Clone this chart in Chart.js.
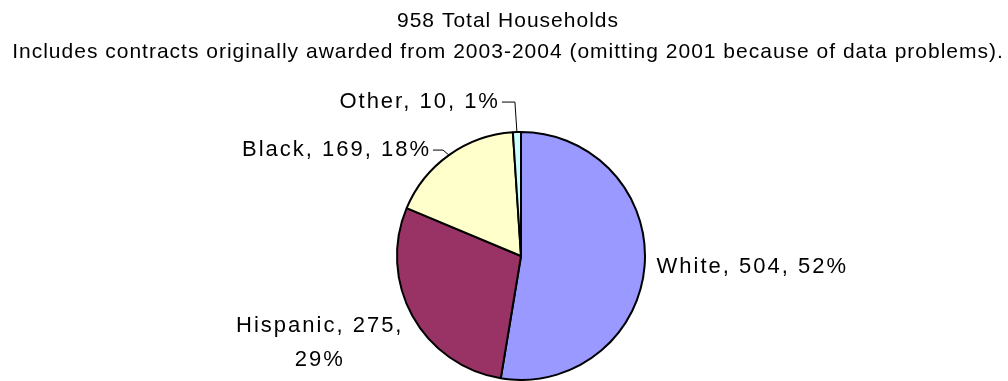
<!DOCTYPE html>
<html>
<head>
<meta charset="utf-8">
<script src="https://cdn.jsdelivr.net/npm/chart.js@4/dist/chart.umd.min.js"></script>
<style>
  html, body { margin: 0; padding: 0; background: #ffffff; }
  #wrap { width: 1008px; height: 381px; position: relative; }
</style>
</head>
<body>
<div id="wrap"><canvas id="c" width="1008" height="381"></canvas></div>
<script>
// ---- data ----
const categories = ['White', 'Hispanic', 'Black', 'Other'];
const households = [504, 275, 169, 10];
const percentLabels = [52, 29, 18, 1];
const titleLines = [
  '958 Total Households',
  'Includes contracts originally awarded from 2003-2004 (omitting 2001 because of data problems).'
];

// ---- styling ----
const sliceColors = ['#9999FF', '#993366', '#FFFFCC', '#CCFFFF'];
const labelFont = '22px "Liberation Sans", Arial, sans-serif';
const titleFont = '21px "Liberation Sans", Arial, sans-serif';
// label placement relative to each slice's outer-edge midpoint
const labelStyle = [
  { side: 'left',  dx: 12, dy: -1 },                       // White
  { side: 'right', dx: -9, dy: 25, wrap: true, lineGap: 34 }, // Hispanic
  { side: 'right', elbow: [-6, -5], hlen: 10, gap: 4 },     // Black
  { side: 'right', elbow: [-2, -30], hlen: 13, gap: 4 }     // Other
];

function setSpacing(ctx, px) {
  if ('letterSpacing' in ctx) ctx.letterSpacing = px + 'px';
}

const labelPlugin = {
  id: 'excelLabels',
  afterDraw(chart) {
    const ctx = chart.ctx;
    ctx.save();
    // titles
    ctx.fillStyle = '#000';
    ctx.font = titleFont;
    setSpacing(ctx, 1);
    ctx.textAlign = 'center';
    ctx.textBaseline = 'alphabetic';
    ctx.fillText(titleLines[0], 508, 27);
    ctx.fillText(titleLines[1], 508, 58);

    // slice labels
    const meta = chart.getDatasetMeta(0);
    ctx.font = labelFont;
    setSpacing(ctx, 2);
    const capHalf = 8;
    meta.data.forEach((arc, i) => {
      const p = arc.getProps(['x', 'y', 'startAngle', 'endAngle', 'outerRadius'], true);
      const mid = (p.startAngle + p.endAngle) / 2;
      const ex = p.x + Math.cos(mid) * p.outerRadius;
      const ey = p.y + Math.sin(mid) * p.outerRadius;
      const st = labelStyle[i];
      const full = categories[i] + ', ' + households[i] + ', ' + percentLabels[i] + '%';
      if (st.elbow) {
        const bx = ex + st.elbow[0], by = ey + st.elbow[1];
        const hx = bx + (st.side === 'right' ? -st.hlen : st.hlen);
        ctx.strokeStyle = '#000';
        ctx.lineWidth = 1;
        ctx.beginPath();
        ctx.moveTo(ex, ey);
        ctx.lineTo(bx, by);
        ctx.lineTo(hx, by);
        ctx.stroke();
        ctx.textAlign = st.side === 'right' ? 'right' : 'left';
        const tx = st.side === 'right' ? hx - st.gap + 2 : hx + st.gap;
        ctx.fillText(full, tx, by - 2 + capHalf);
      } else if (st.wrap) {
        const lines = [categories[i] + ', ' + households[i] + ',', percentLabels[i] + '%'];
        const widths = lines.map(l => ctx.measureText(l).width);
        const bw = Math.max(...widths);
        const right = ex + st.dx;
        const cx = right - bw / 2;
        const cy = ey + st.dy;
        ctx.textAlign = 'center';
        const n = lines.length;
        lines.forEach((l, k) => {
          const ly = cy + (k - (n - 1) / 2) * st.lineGap;
          ctx.fillText(l, cx, ly + capHalf);
        });
      } else {
        ctx.textAlign = 'left';
        ctx.fillText(full, ex + st.dx, ey + st.dy + capHalf);
      }
    });
    ctx.restore();
  }
};

new Chart(document.getElementById('c'), {
  type: 'pie',
  data: {
    labels: categories,
    datasets: [{
      data: households,
      backgroundColor: sliceColors,
      borderColor: '#000000',
      borderWidth: 2,
      hoverOffset: 0
    }]
  },
  options: {
    responsive: false,
    animation: false,
    events: [],
    layout: { padding: { top: 131, bottom: 0, left: 34, right: 0 } },
    plugins: {
      legend: { display: false },
      title: { display: false },
      tooltip: { enabled: false }
    }
  },
  plugins: [labelPlugin]
});
</script>
</body>
</html>
